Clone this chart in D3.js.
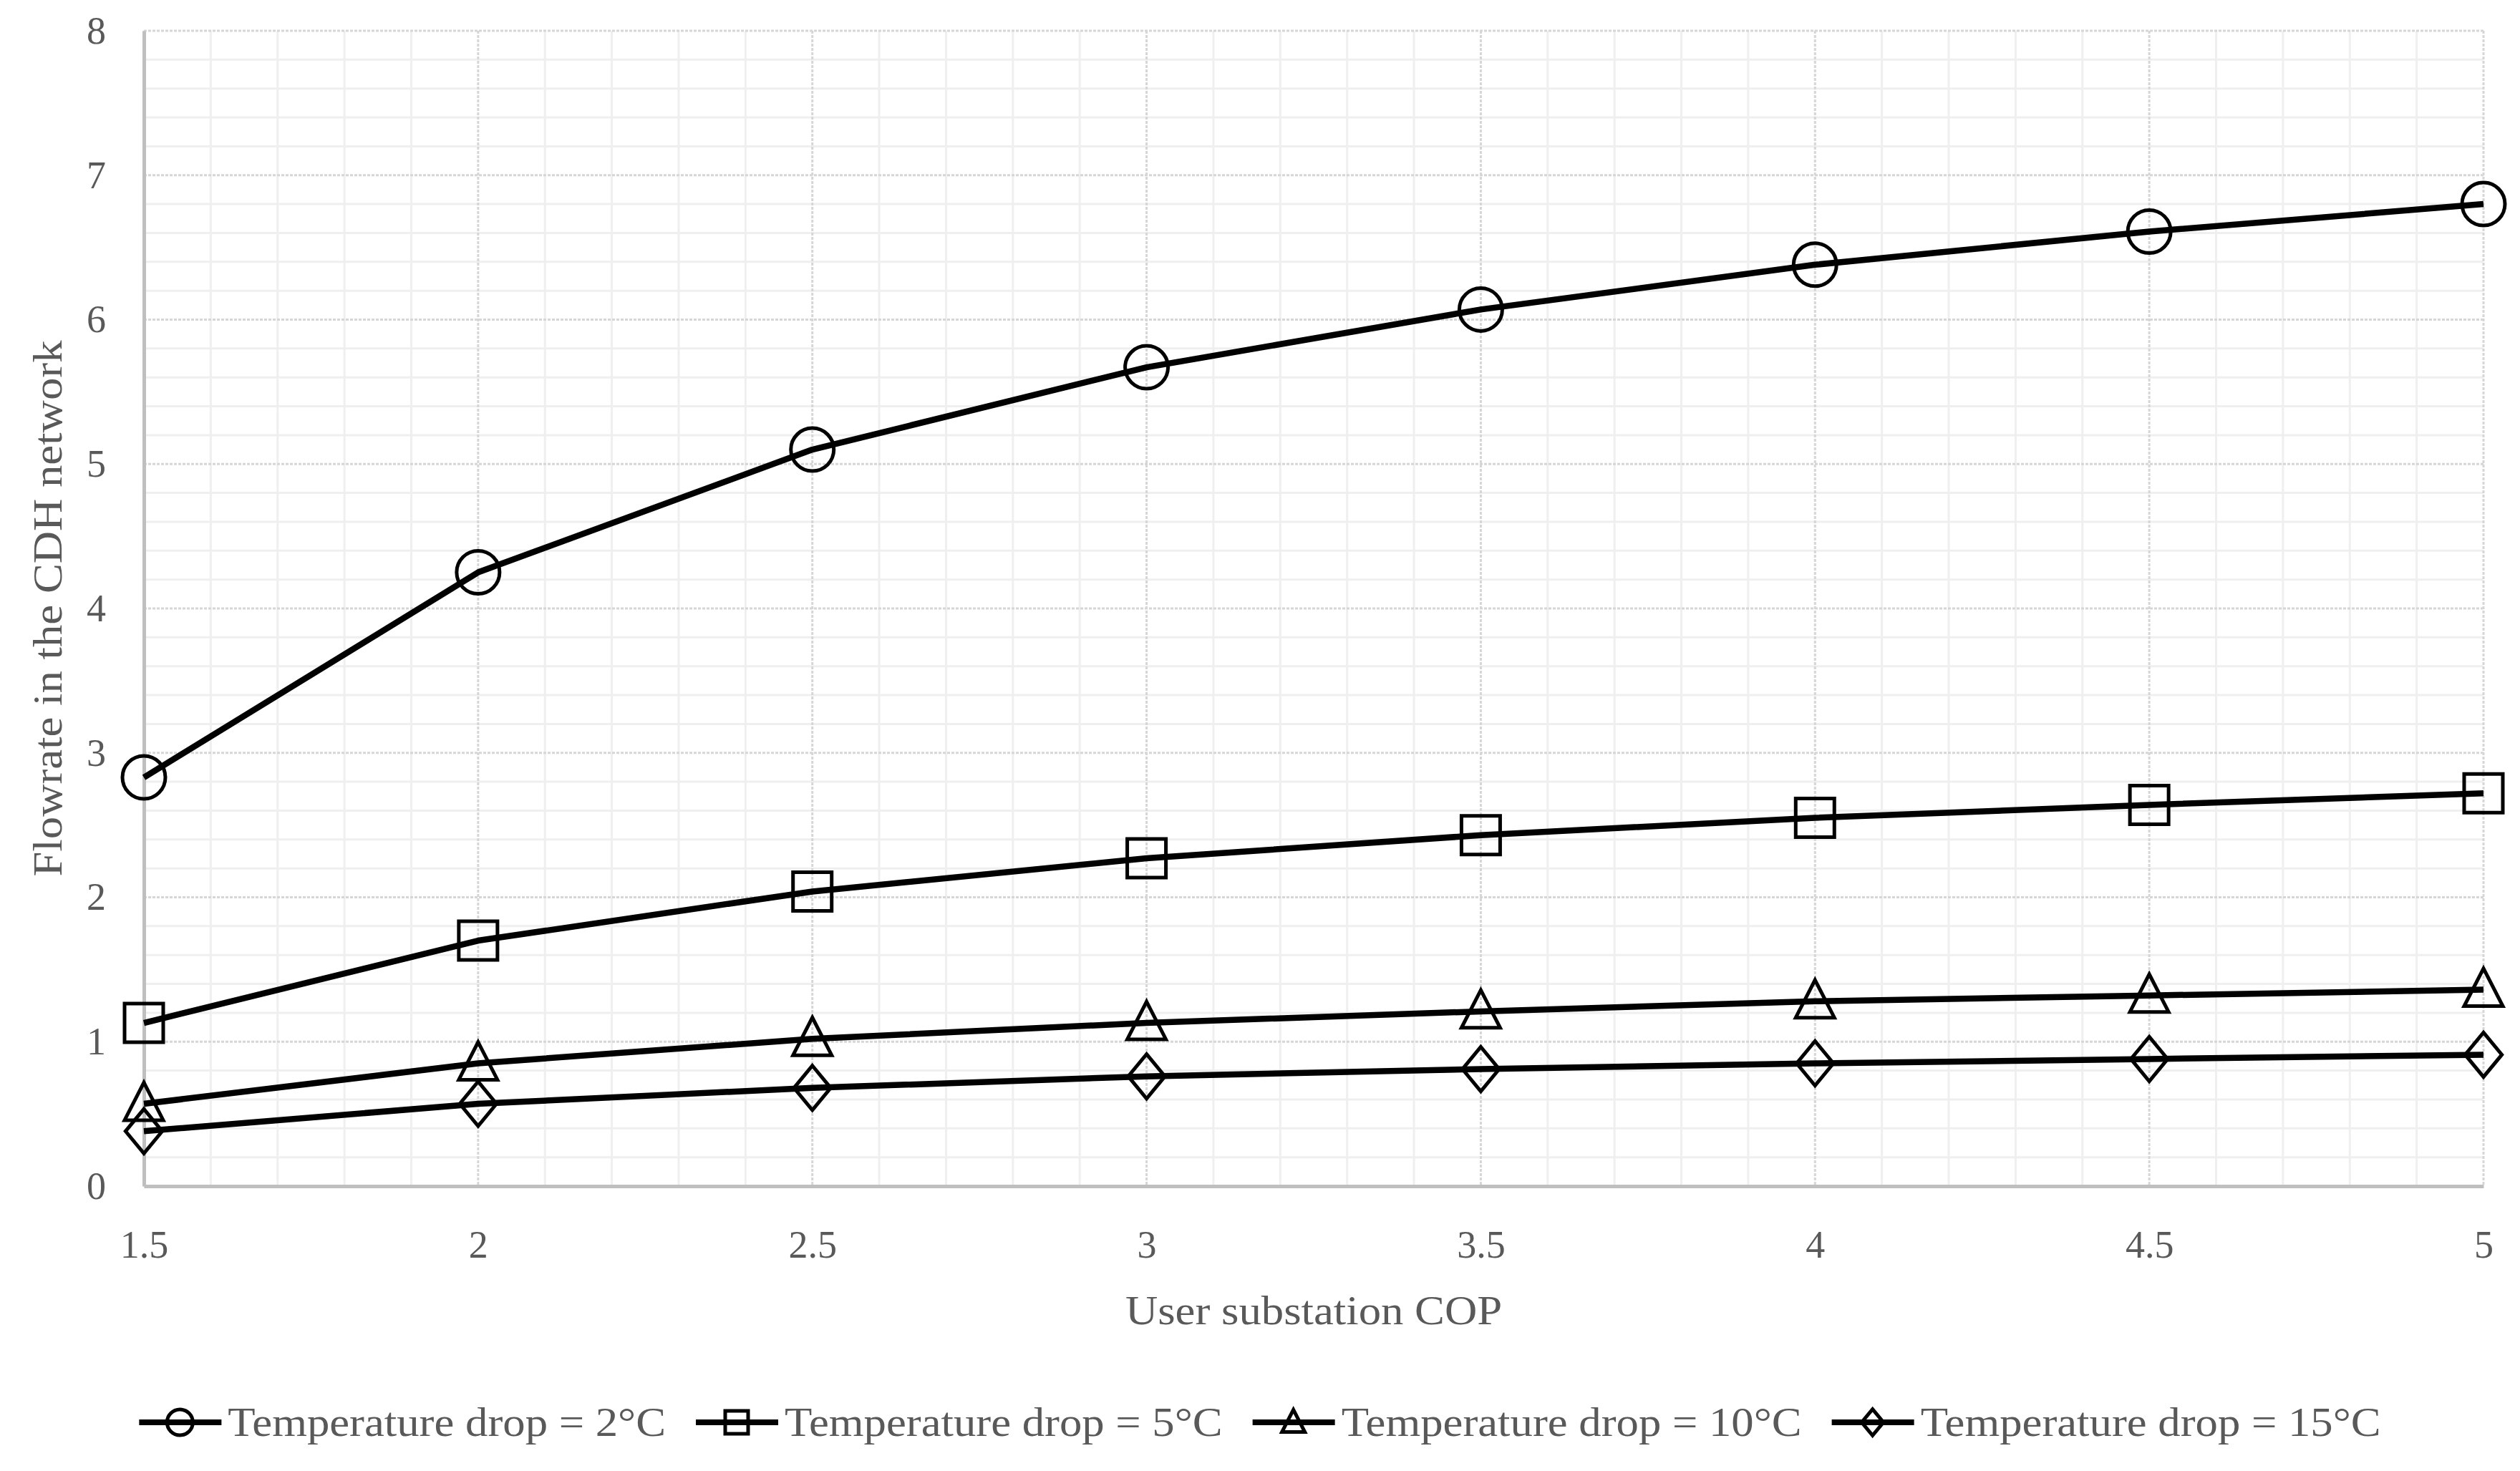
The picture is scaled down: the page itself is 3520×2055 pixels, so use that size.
<!DOCTYPE html>
<html>
<head>
<meta charset="utf-8">
<script src="https://cdn.jsdelivr.net/npm/d3@7/dist/d3.min.js"></script>
<style>
  html, body { margin: 0; padding: 0; background: #ffffff; }
  svg { display: block; }
  text { font-family: "Palatino Linotype", "Book Antiqua", Palatino, "Liberation Serif", serif; fill: #595959; }
</style>
</head>
<body>
<svg id="chart" width="3520" height="2055"></svg>
<script>
// ---- data ----
const cop = [1.5, 2, 2.5, 3, 3.5, 4, 4.5, 5];
const drop2  = [2.83, 4.25, 5.10, 5.67, 6.07, 6.38, 6.61, 6.80];
const drop5  = [1.13, 1.70, 2.04, 2.27, 2.43, 2.55, 2.64, 2.72];
const drop10 = [0.57, 0.85, 1.02, 1.13, 1.21, 1.28, 1.32, 1.36];
const drop15 = [0.38, 0.57, 0.68, 0.76, 0.81, 0.85, 0.88, 0.91];
const seriesNames = ["Temperature drop = 2°C", "Temperature drop = 5°C", "Temperature drop = 10°C", "Temperature drop = 15°C"];
const markerTypes = ["circle", "square", "triangle", "diamond"];
const xTicks = [1.5, 2, 2.5, 3, 3.5, 4, 4.5, 5];
const yTicks = [0, 1, 2, 3, 4, 5, 6, 7, 8];
const xTitle = "User substation COP";
const yTitle = "Flowrate in the CDH network";

(function () {
const series = [drop2, drop5, drop10, drop15].map((vals, i) => ({
  name: seriesNames[i], marker: markerTypes[i],
  points: vals.map((v, j) => ({ x: cop[j], y: v }))
}));

// ---- layout ----
const W = 3520, H = 2055;
const pLeft = 201, pRight = 3469, pTop = 43, pBottom = 1657;
const svg = d3.select("#chart");
const x = d3.scaleLinear().domain([1.5, 5]).range([pLeft, pRight]);
const y = d3.scaleLinear().domain([0, 8]).range([pBottom, pTop]);
const fontFam = "'Palatino Linotype','Book Antiqua',Palatino,'Liberation Serif',serif";
const widen = 1.12; // substitute font is narrower than the original Palatino-like face

function stretch(t) {
  const w = t.node().getComputedTextLength();
  t.attr("textLength", w * widen).attr("lengthAdjust", "spacingAndGlyphs");
  return w * widen;
}

// ---- gridlines ----
const g = svg.append("g");
const minorX = d3.range(15, 51).map(d => d / 10).filter(d => Math.abs(d * 2 - Math.round(d * 2)) > 1e-6);
const minorY = d3.range(0, 41).map(d => d / 5).filter(d => Math.abs(d - Math.round(d)) > 1e-6);
g.selectAll(".mx").data(minorX).join("line")
  .attr("x1", d => x(d)).attr("x2", d => x(d)).attr("y1", pTop).attr("y2", pBottom)
  .attr("stroke", "#efefef").attr("stroke-width", 3);
g.selectAll(".my").data(minorY).join("line")
  .attr("x1", pLeft).attr("x2", pRight).attr("y1", d => y(d)).attr("y2", d => y(d))
  .attr("stroke", "#efefef").attr("stroke-width", 3);
g.selectAll(".Mx").data(xTicks).join("line")
  .attr("x1", d => x(d)).attr("x2", d => x(d)).attr("y1", pTop).attr("y2", pBottom)
  .attr("stroke", "#d6d6d6").attr("stroke-width", 3).attr("stroke-dasharray", "4,2");
g.selectAll(".My").data(yTicks).join("line")
  .attr("x1", pLeft).attr("x2", pRight).attr("y1", d => y(d)).attr("y2", d => y(d))
  .attr("stroke", "#d6d6d6").attr("stroke-width", 3).attr("stroke-dasharray", "4,2");

// ---- axes ----
const xAxis = svg.append("g").attr("transform", `translate(0,${pBottom})`)
  .call(d3.axisBottom(x).tickValues(xTicks).tickSize(0).tickPadding(62).tickFormat(d3.format("~g")));
xAxis.select(".domain").attr("stroke", "#bfbfbf").attr("stroke-width", 5);
xAxis.selectAll("text").attr("font-size", 54).attr("fill", "#595959").style("font-family", fontFam);

const yAxis = svg.append("g").attr("transform", `translate(${pLeft},0)`)
  .call(d3.axisLeft(y).tickValues(yTicks).tickSize(0).tickPadding(53).tickFormat(d3.format("d")));
yAxis.select(".domain").attr("stroke", "#bfbfbf").attr("stroke-width", 5);
yAxis.selectAll("text").attr("font-size", 54).attr("fill", "#595959").style("font-family", fontFam);

// ---- axis titles ----
const xt = svg.append("text").attr("x", (pLeft + pRight) / 2).attr("y", 1850)
  .attr("text-anchor", "middle").attr("font-size", 56).text(xTitle);
stretch(xt);
const yt = svg.append("text").attr("transform", `translate(86,${(pTop + pBottom) / 2}) rotate(-90)`)
  .attr("text-anchor", "middle").attr("font-size", 56).text(yTitle);
stretch(yt);

// ---- markers ----
function markerPath(type, s) {
  if (type === "square") return `M${-s},${-s}H${s}V${s}H${-s}Z`;
  if (type === "triangle") return `M0,${-s * 1.1}L${s},${s * 0.85}L${-s},${s * 0.85}Z`;
  if (type === "diamond") return `M0,${-s * 1.15}L${s * 0.95},0L0,${s * 1.15}L${-s * 0.95},0Z`;
  return null;
}
function drawMarker(sel, type, cx, cy, s, sw) {
  if (type === "circle") {
    sel.append("circle").attr("cx", cx).attr("cy", cy).attr("r", s)
      .attr("fill", "none").attr("stroke", "#000").attr("stroke-width", sw);
  } else {
    sel.append("path").attr("d", markerPath(type, s)).attr("transform", `translate(${cx},${cy})`)
      .attr("fill", "none").attr("stroke", "#000").attr("stroke-width", sw).attr("stroke-linejoin", "miter");
  }
}

// ---- lines ----
const line = d3.line().x(d => x(d.x)).y(d => y(d.y));
const sizes = { circle: 30, square: 27, triangle: 27, diamond: 27 };
series.forEach(s => {
  svg.append("path").datum(s.points).attr("d", line)
    .attr("fill", "none").attr("stroke", "#000").attr("stroke-width", 8.5)
    .attr("stroke-linecap", "butt").attr("stroke-linejoin", "round");
  const mg = svg.append("g");
  s.points.forEach(p => drawMarker(mg, s.marker, x(p.x), y(p.y), sizes[s.marker], 5));
});

// ---- legend ----
const legY = 1987;
const legGap = 42;
const leg = svg.append("g");
const items = [];
let cursor = 0;
series.forEach((s) => {
  const it = leg.append("g");
  it.append("line").attr("x1", 0).attr("x2", 115).attr("y1", legY).attr("y2", legY)
    .attr("stroke", "#000").attr("stroke-width", 8);
  drawMarker(it, s.marker, 57, legY, s.marker === "circle" ? 18 : 16, 5);
  const t = it.append("text").attr("x", 124).attr("y", legY + 19).attr("font-size", 56).text(s.name);
  const w = 124 + stretch(t);
  items.push({ it, x: cursor });
  cursor += w + legGap;
});
const total = cursor - legGap;
const start = W / 2 - total / 2;
items.forEach(d => d.it.attr("transform", `translate(${start + d.x},0)`));
})();
</script>
</body>
</html>
